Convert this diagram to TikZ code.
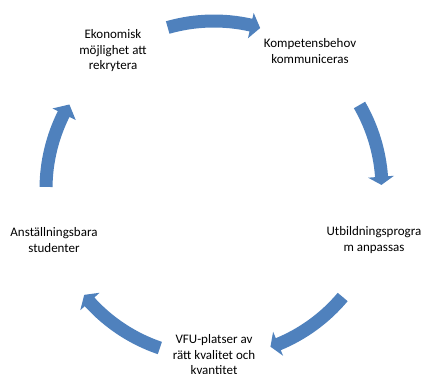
\documentclass[tikz,border=0pt]{standalone}
\usepackage{fontspec}
\setmainfont{Carlito}
\definecolor{arrowblue}{RGB}{79,129,189}
\newcommand\cycarrow[3]{%
  \fill[arrowblue] (#1:174.5pt) arc[start angle=#1, end angle=#2, radius=174.5pt]
    -- (#2:180.5pt) -- (#3:167.5pt) -- (#2:154.5pt) -- (#2:161.5pt)
    arc[start angle=#2, end angle=#1, radius=161.5pt] -- cycle;}
\begin{document}
\begin{tikzpicture}[x=1pt,y=1pt,
  lbl/.style={align=center, inner sep=0pt, font=\fontsize{13}{15.5}\selectfont}]
\useasboundingbox (-214,-185) rectangle (209,189);
\node[lbl] (eko)  at (-101,138) {Ekonomisk\\möjlighet att\\rekrytera};
\node[lbl] (komp) at (96,138)   {Kompetensbehov\\kommuniceras};
\node[lbl] (utb)  at (160,-51)  {Utbildningsprogra\\m anpassas};
\node[lbl] (vfu)  at (0,-166)   {VFU-platser av\\rätt kvalitet och\\kvantitet};
\node[lbl] (ans)  at (-160,-51) {Anställningsbara\\studenter};
\cycarrow{106}{77.3}{74}
\cycarrow{30}{4.2}{1.4}
\cycarrow{-40}{-67.5}{-70.3}
\cycarrow{251.2}{222.2}{219.2}
\cycarrow{179.3}{153.5}{149.7}
\end{tikzpicture}
\end{document}
